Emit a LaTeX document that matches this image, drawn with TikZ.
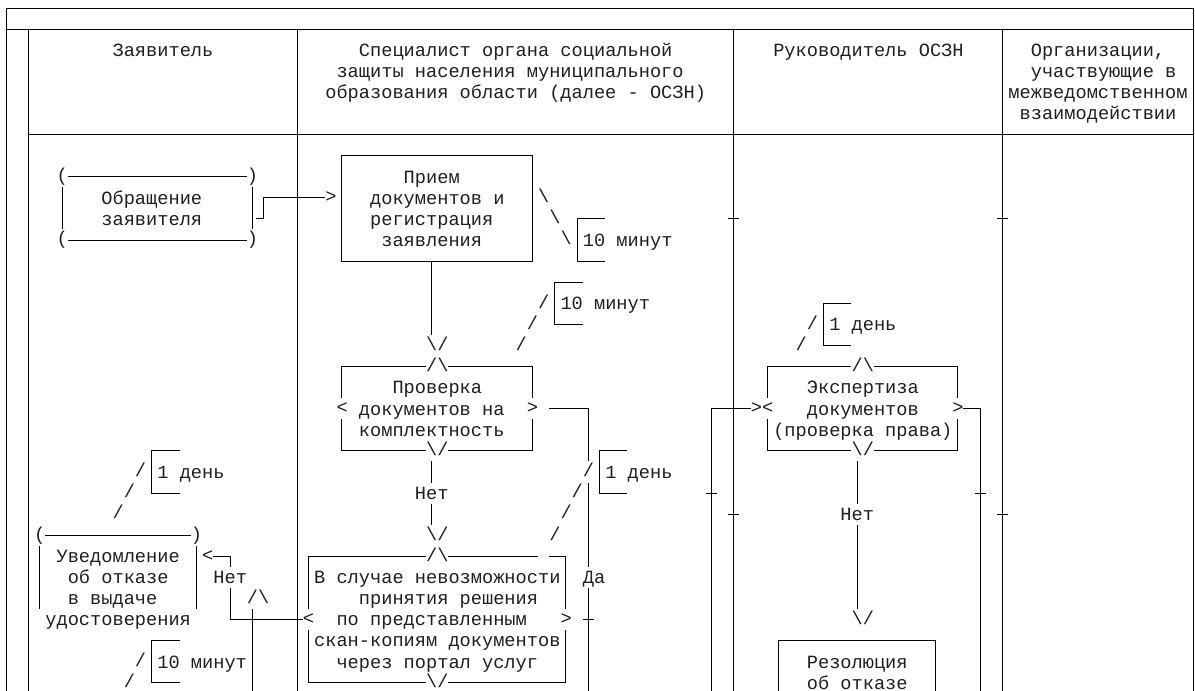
\documentclass[tikz,border=0pt]{standalone}
\usepackage{fontspec}
\usepackage{tikz}
\newfontfamily\asciifont{Liberation Mono}
\newcommand{\chfont}{\asciifont\fontsize{18.66pt}{21.09pt}\selectfont}
\newcommand{\bsl}{\textbackslash}

\tikzset{
  ln/.style={line width=0.9pt, black},
  txt/.style={font=\chfont, text=black!88, inner sep=0pt, anchor=base west, xshift=-5.6pt, yshift=-6.3pt},
  gl/.style={txt, yshift=1.5pt},
}

\begin{document}
\begin{tikzpicture}[x=11.198pt, y=-21.09pt]
  \useasboundingbox (-0.536,-0.379) rectangle (106.18,32.385);
  \fill[white] (-0.536,-0.379) rectangle (106.18,32.385);
  \clip (-0.536,-0.379) rectangle (106.18,32.385);

  % ======= frame and lanes =======
  \draw[ln] (0,32.5) -- (0,0) -- (106,0) -- (106,32.5);
  \draw[ln] (0,1) -- (106,1);
  \foreach \c in {2,26,65,89} {
    \draw[ln] (\c,1) -- (\c,32.5);
  }
  \draw[ln] (2,6) -- (106,6);

  % header
  \node[txt] (hd-a) at (10,2) {Заявитель};
  \node[txt] (hd-b1) at (32,2) {Специалист органа социальной};
  \node[txt] (hd-b2) at (30,3) {защиты населения муниципального};
  \node[txt] (hd-b3) at (29,4) {образования области (далее - ОСЗН)};
  \node[txt] (hd-c) at (69,2) {Руководитель ОСЗН};
  \node[txt] (hd-d1) at (92,2) {Организации,};
  \node[txt] (hd-d2) at (92,3) {участвующие в};
  \node[txt] (hd-d3) at (90,4) {межведомственном};
  \node[txt] (hd-d4) at (91,5) {взаимодействии};

  % ======= Заявитель =======
  % start terminator
  \draw[ln] (5.5,8) -- (21.5,8) (5.5,11) -- (21.5,11);
  \draw[ln] (5,8.5) -- (5,10.5) (22,8.5) -- (22,10.5);
  \node[gl] (obr-tl) at (5,8) {(};
  \node[gl] (obr-tr) at (22,8) {)};
  \node[gl] (obr-bl) at (5,11) {(};
  \node[gl] (obr-br) at (22,11) {)};
  \node[txt] (obr1) at (9,9) {Обращение};
  \node[txt] (obr2) at (9,10) {заявителя};

  % time mark 1 день
  \draw[ln] (15.5,21) -- (13,21) -- (13,23) -- (15.5,23);
  \node[txt] (tm-a1) at (14,22) {1 день};
  \foreach \c/\r in {12/22,11/23,10/24} {
    \node[gl] (sa1-\r) at (\c,\r) {/};
  }

  % end terminator
  \draw[ln] (3.5,25) -- (16.5,25);
  \draw[ln] (3,25.5) -- (3,28.5) (17,25.5) -- (17,28.5);
  \node[gl] (uv-tl) at (3,25) {(};
  \node[gl] (uv-tr) at (17,25) {)};
  \node[txt] (uv1) at (5,26) {Уведомление};
  \node[txt] (uv2) at (6,27) {об отказе};
  \node[txt] (uv3) at (6,28) {в выдаче};
  \node[txt] (uv4) at (4,29) {удостоверения};

  % time mark 10 минут
  \draw[ln] (15.5,30) -- (13,30) -- (13,32) -- (15.5,32);
  \node[txt] (tm-a2) at (14,31) {10 минут};
  \foreach \c/\r in {12/31,11/32} {
    \node[gl] (sa2-\r) at (\c,\r) {/};
  }

  % ======= Специалист ОСЗН =======
  % reception box
  \draw[ln] (30,7) rectangle (47,12);
  \node[txt] (pr1) at (36,8) {Прием};
  \node[txt] (pr2) at (33,9) {документов и};
  \node[txt] (pr3) at (33,10) {регистрация};
  \node[txt] (pr4) at (34,11) {заявления};

  % time mark 10 минут (right of box)
  \foreach \c/\r in {48/9,49/10,50/11} {
    \node[gl] (sb1-\r) at (\c,\r) {\bsl};
  }
  \draw[ln] (53.5,10) -- (51,10) -- (51,12) -- (53.5,12);
  \node[txt] (tm-b1) at (52,11) {10 минут};

  % time mark 10 минут (above check)
  \draw[ln] (51.5,13) -- (49,13) -- (49,15) -- (51.5,15);
  \node[txt] (tm-b2) at (50,14) {10 минут};
  \foreach \c/\r in {48/14,47/15,46/16} {
    \node[gl] (sb2-\r) at (\c,\r) {/};
  }

  % check decision
  \draw[ln] (30,18.5) -- (30,17) -- (37.5,17) (39.5,17) -- (47,17) -- (47,18.5);
  \draw[ln] (30,19.5) -- (30,21) -- (37.5,21) (39.5,21) -- (47,21) -- (47,19.5);
  \node[gl] (chk-n) at (38,17) {/\bsl};
  \node[gl] (chk-s) at (38,21) {\bsl/};
  \node[gl] (chk-w) at (30,19) {<};
  \node[gl] (chk-e) at (47,19) {>};
  \node[txt] (chk1) at (35,18) {Проверка};
  \node[txt] (chk2) at (32,19) {документов на};
  \node[txt] (chk3) at (32,20) {комплектность};

  % time mark 1 день
  \draw[ln] (55.5,21) -- (53,21) -- (53,23) -- (55.5,23);
  \node[txt] (tm-b3) at (54,22) {1 день};
  \foreach \c/\r in {52/22,51/23,50/24,49/25} {
    \node[gl] (sb3-\r) at (\c,\r) {/};
  }

  % scan copies decision
  \draw[ln] (27,28.5) -- (27,26) -- (37.5,26) (39.5,26) -- (47.5,26) (48.5,26) -- (50,26) -- (50,28.5);
  \draw[ln] (27,29.5) -- (27,32) -- (37.5,32) (39.5,32) -- (50,32) -- (50,29.5);
  \node[gl] (scn-n) at (38,26) {/\bsl};
  \node[gl] (scn-s) at (38,32) {\bsl/};
  \node[gl] (scn-w) at (27,29) {<};
  \node[gl] (scn-e) at (50,29) {>};
  \node[txt] (scn1) at (28,27) {В случае невозможности};
  \node[txt] (scn2) at (32,28) {принятия решения};
  \node[txt] (scn3) at (30,29) {по представленным};
  \node[txt] (scn4) at (28,30) {скан-копиям документов};
  \node[txt] (scn5) at (30,31) {через портал услуг};

  % ======= Руководитель ОСЗН =======
  \draw[ln] (75.5,14) -- (73,14) -- (73,16) -- (75.5,16);
  \node[txt] (tm-c1) at (74,15) {1 день};
  \foreach \c/\r in {72/15,71/16} {
    \node[gl] (sc1-\r) at (\c,\r) {/};
  }

  % expertise decision
  \draw[ln] (68,18.5) -- (68,17) -- (75.5,17) (77.5,17) -- (85,17) -- (85,18.5);
  \draw[ln] (68,19.5) -- (68,21) -- (75.5,21) (77.5,21) -- (85,21) -- (85,19.5);
  \node[gl] (exp-n) at (76,17) {/\bsl};
  \node[gl] (exp-s) at (76,21) {\bsl/};
  \node[gl] (exp-w) at (68,19) {<};
  \node[gl] (exp-e) at (85,19) {>};
  \node[txt] (exp1) at (72,18) {Экспертиза};
  \node[txt] (exp2) at (72,19) {документов};
  \node[txt] (exp3) at (69,20) {(проверка права)};

  % refusal resolution
  \draw[ln] (69,32.5) -- (69,30) -- (83,30) -- (83,32.5);
  \node[txt] (res1) at (72,31) {Резолюция};
  \node[txt] (res2) at (72,32) {об отказе};

  % ======= connectors =======
  \coordinate (obr-out) at (22.35,10);
  \coordinate (pr-in) at (28.5,9);
  \draw[ln] (obr-out) -- (23,10) -- (23,9) -- (pr-in);
  \node[gl] (ar-pr) at (29,9) {>};

  \coordinate (pr-out) at (38,12);
  \coordinate (chk-in) at (38,15.5);
  \draw[ln] (pr-out) -- (chk-in);
  \node[gl] (ar-chk) at (38,16) {\bsl/};

  \draw[ln] (38,21.5) -- (38,22.5) (38,23.5) -- (38,24.5);
  \node[txt] (no-chk) at (37,23) {Нет};
  \node[gl] (ar-scn) at (38,25) {\bsl/};

  \coordinate (chk-out) at (48.5,19);
  \draw[ln] (chk-out) -- (52,19) -- (52,21.5) (52,22.5) -- (52,26.5) (52,27.5) -- (52,32.5);
  \node[txt] (yes-chk) at (52,27) {Да};

  \coordinate (scn-out) at (26.5,29);
  \coordinate (uv-in) at (18.5,26);
  \draw[ln] (scn-out) -- (20,29) -- (20,27.5) (20,26.5) -- (20,26) -- (uv-in);
  \node[txt] (no-scn) at (19,27) {Нет};
  \node[gl] (ar-uv) at (18,26) {<};

  \draw[ln] (22,28.5) -- (22,32.5);
  \node[gl] (ar-up) at (22,28) {/\bsl};

  \coordinate (exp-in) at (66.5,19);
  \draw[ln] (63,32.5) -- (63,19) -- (exp-in);
  \node[gl] (ar-exp) at (67,19) {>};

  \draw[ln] (85.5,19) -- (87,19) -- (87,32.5);

  \draw[ln] (76,21.5) -- (76,23.5) (76,24.5) -- (76,28.5);
  \node[txt] (no-exp) at (75,24) {Нет};
  \node[gl] (ar-res) at (76,29) {\bsl/};

  % crossing ticks
  \foreach \c/\r in {65/10,89/10,63/23,87/23,65/24,89/24,52/29} {
    \draw[ln] (\c-0.5,\r) -- (\c+0.5,\r);
  }
\end{tikzpicture}
\end{document}
